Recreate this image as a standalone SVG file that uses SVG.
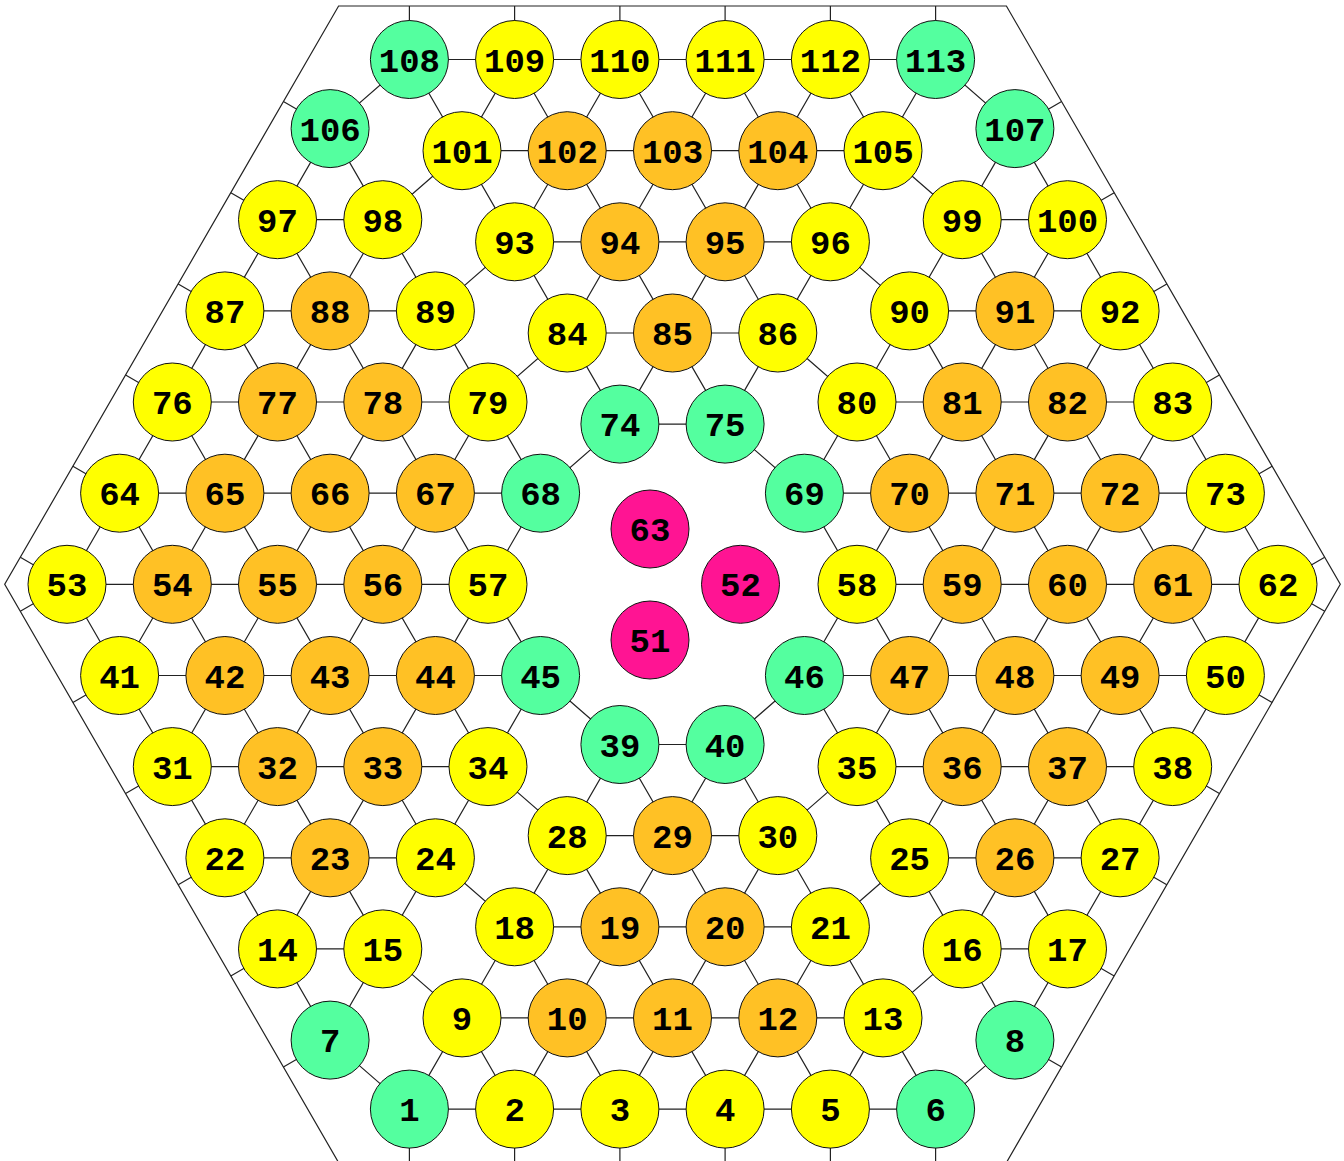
<svg xmlns="http://www.w3.org/2000/svg" width="1344" height="1161" viewBox="0 0 1344 1161">
<style>
.e path{fill:none;stroke:#222;stroke-width:1.2}
circle{r:39px;stroke:#111;stroke-width:1}
.y circle{fill:#ffff00}
.o circle{fill:#ffc125}
.g circle{fill:#54ff9f}
.m circle{fill:#ff1493}
text{font-family:"Liberation Mono","DejaVu Sans Mono",monospace;font-weight:bold;font-size:34px;text-anchor:middle;fill:#000}
</style>
<rect width="1344" height="1161" fill="#fff"/>
<polygon points="338.6,6 1006.4,6 1340.3,584.3 1006.4,1162.6 338.6,1162.6 4.7,584.3" fill="none" stroke="#222" stroke-width="1.2"/>
<g class="e" id="connectors">
<path d="M277.5 219.7H382.8M224.9 310.9H435.4M172.3 402H488M119.6 493.2H540.6M67 584.3H488M119.6 675.5H540.6M172.3 766.6H488M224.9 857.8H435.4M277.5 948.9H382.8"/>
<path d="M962.2 219.7H1067.5M909.6 310.9H1120.1M857 402H1172.7M804.4 493.2H1225.4M857 584.3H1278M804.4 675.5H1225.4M857 766.6H1172.7M909.6 857.8H1120.1M962.2 948.9H1067.5"/>
<path d="M409.4 59.5H935.6M462 150.7H883M514.6 241.8H830.4M567.2 333H777.8M619.9 424.1H725.1M409.4 1109.1H935.6M462 1017.9H883M514.6 926.8H830.4M567.2 835.6H777.8M619.9 744.5H725.1"/>
<path d="M330.1 128.6L540.6 493.2M277.5 219.7L540.6 675.5M224.9 310.9L488 766.6M172.3 402L435.4 857.8M119.6 493.2L382.8 948.9M67 584.3L330.1 1040.1M330.1 128.6L67 584.3M382.8 219.7L119.6 675.5M435.4 310.9L172.3 766.6M488 402L224.9 857.8M540.6 493.2L277.5 948.9M540.6 675.5L330.1 1040.1"/>
<path d="M1014.9 128.6L804.4 493.2M1067.5 219.7L804.4 675.5M1120.1 310.9L857 766.6M1172.7 402L909.6 857.8M1225.4 493.2L962.2 948.9M1278 584.3L1014.9 1040.1M1014.9 128.6L1278 584.3M962.2 219.7L1225.4 675.5M909.6 310.9L1172.7 766.6M857 402L1120.1 857.8M804.4 493.2L1067.5 948.9M804.4 675.5L1014.9 1040.1"/>
<path d="M409.4 59.5L619.9 424.1M514.6 59.5L725.1 424.1M619.9 59.5L777.8 333M725.1 59.5L830.4 241.8M830.4 59.5L883 150.7M935.6 59.5L725.1 424.1M830.4 59.5L619.9 424.1M725.1 59.5L567.2 333M619.9 59.5L514.6 241.8M514.6 59.5L462 150.7"/>
<path d="M409.4 1109.1L619.9 744.5M514.6 1109.1L725.1 744.5M619.9 1109.1L777.8 835.6M725.1 1109.1L830.4 926.8M830.4 1109.1L883 1017.9M935.6 1109.1L725.1 744.5M830.4 1109.1L619.9 744.5M725.1 1109.1L567.2 835.6M619.9 1109.1L514.6 926.8M514.6 1109.1L462 1017.9"/>
<path d="M330.1 128.6L409.4 59.5M382.8 219.7L462 150.7M435.4 310.9L514.6 241.8M488 402L567.2 333M540.6 493.2L619.9 424.1M935.6 59.5L1014.9 128.6M883 150.7L962.2 219.7M830.4 241.8L909.6 310.9M777.8 333L857 402M725.1 424.1L804.4 493.2"/>
<path d="M330.1 1040.1L409.4 1109.1M382.8 948.9L462 1017.9M435.4 857.8L514.6 926.8M488 766.6L567.2 835.6M540.6 675.5L619.9 744.5M1014.9 1040.1L935.6 1109.1M962.2 948.9L883 1017.9M909.6 857.8L830.4 926.8M857 766.6L777.8 835.6M804.4 675.5L725.1 744.5"/>
<path d="M409.4 59.5V6M514.6 59.5V6M619.9 59.5V6M725.1 59.5V6M830.4 59.5V6M935.6 59.5V6M409.4 1109.1V1163M514.6 1109.1V1163M619.9 1109.1V1163M725.1 1109.1V1163M830.4 1109.1V1163M935.6 1109.1V1163"/>
<path d="M330.1 128.6L283.4 101.6M277.5 219.7L230.8 192.7M224.9 310.9L178.2 283.9M172.3 402L125.6 375M119.6 493.2L72.9 466.2M67 584.3L20.3 557.3M67 584.3L20.3 611.3M119.6 675.5L72.9 702.5M172.3 766.6L125.6 793.6M224.9 857.8L178.2 884.8M277.5 948.9L230.8 975.9M330.1 1040.1L283.4 1067.1"/>
<path d="M1014.9 128.6L1061.6 101.6M1067.5 219.7L1114.2 192.7M1120.1 310.9L1166.8 283.9M1172.7 402L1219.4 375M1225.4 493.2L1272.1 466.2M1278 584.3L1324.7 557.3M1278 584.3L1324.7 611.3M1225.4 675.5L1272.1 702.5M1172.7 766.6L1219.4 793.6M1120.1 857.8L1166.8 884.8M1067.5 948.9L1114.2 975.9M1014.9 1040.1L1061.6 1067.1"/>
</g>
<g id="nodes">
<g id="n108" class="g"><circle cx="409.4" cy="59.5"/><text x="409.4" y="71.5">108</text></g>
<g id="n109" class="y"><circle cx="514.6" cy="59.5"/><text x="514.6" y="71.5">109</text></g>
<g id="n110" class="y"><circle cx="619.9" cy="59.5"/><text x="619.9" y="71.5">110</text></g>
<g id="n111" class="y"><circle cx="725.1" cy="59.5"/><text x="725.1" y="71.5">111</text></g>
<g id="n112" class="y"><circle cx="830.4" cy="59.5"/><text x="830.4" y="71.5">112</text></g>
<g id="n113" class="g"><circle cx="935.6" cy="59.5"/><text x="935.6" y="71.5">113</text></g>
<g id="n106" class="g"><circle cx="330.1" cy="128.6"/><text x="330.1" y="140.6">106</text></g>
<g id="n107" class="g"><circle cx="1014.9" cy="128.6"/><text x="1014.9" y="140.6">107</text></g>
<g id="n101" class="y"><circle cx="462" cy="150.7"/><text x="462" y="162.7">101</text></g>
<g id="n102" class="o"><circle cx="567.2" cy="150.7"/><text x="567.2" y="162.7">102</text></g>
<g id="n103" class="o"><circle cx="672.5" cy="150.7"/><text x="672.5" y="162.7">103</text></g>
<g id="n104" class="o"><circle cx="777.8" cy="150.7"/><text x="777.8" y="162.7">104</text></g>
<g id="n105" class="y"><circle cx="883" cy="150.7"/><text x="883" y="162.7">105</text></g>
<g id="n97" class="y"><circle cx="277.5" cy="219.7"/><text x="277.5" y="231.7">97</text></g>
<g id="n98" class="y"><circle cx="382.8" cy="219.7"/><text x="382.8" y="231.7">98</text></g>
<g id="n99" class="y"><circle cx="962.2" cy="219.7"/><text x="962.2" y="231.7">99</text></g>
<g id="n100" class="y"><circle cx="1067.5" cy="219.7"/><text x="1067.5" y="231.7">100</text></g>
<g id="n93" class="y"><circle cx="514.6" cy="241.8"/><text x="514.6" y="253.8">93</text></g>
<g id="n94" class="o"><circle cx="619.9" cy="241.8"/><text x="619.9" y="253.8">94</text></g>
<g id="n95" class="o"><circle cx="725.1" cy="241.8"/><text x="725.1" y="253.8">95</text></g>
<g id="n96" class="y"><circle cx="830.4" cy="241.8"/><text x="830.4" y="253.8">96</text></g>
<g id="n87" class="y"><circle cx="224.9" cy="310.9"/><text x="224.9" y="322.9">87</text></g>
<g id="n88" class="o"><circle cx="330.1" cy="310.9"/><text x="330.1" y="322.9">88</text></g>
<g id="n89" class="y"><circle cx="435.4" cy="310.9"/><text x="435.4" y="322.9">89</text></g>
<g id="n90" class="y"><circle cx="909.6" cy="310.9"/><text x="909.6" y="322.9">90</text></g>
<g id="n91" class="o"><circle cx="1014.9" cy="310.9"/><text x="1014.9" y="322.9">91</text></g>
<g id="n92" class="y"><circle cx="1120.1" cy="310.9"/><text x="1120.1" y="322.9">92</text></g>
<g id="n84" class="y"><circle cx="567.2" cy="333"/><text x="567.2" y="345">84</text></g>
<g id="n85" class="o"><circle cx="672.5" cy="333"/><text x="672.5" y="345">85</text></g>
<g id="n86" class="y"><circle cx="777.8" cy="333"/><text x="777.8" y="345">86</text></g>
<g id="n76" class="y"><circle cx="172.3" cy="402"/><text x="172.3" y="414">76</text></g>
<g id="n77" class="o"><circle cx="277.5" cy="402"/><text x="277.5" y="414">77</text></g>
<g id="n78" class="o"><circle cx="382.8" cy="402"/><text x="382.8" y="414">78</text></g>
<g id="n79" class="y"><circle cx="488" cy="402"/><text x="488" y="414">79</text></g>
<g id="n80" class="y"><circle cx="857" cy="402"/><text x="857" y="414">80</text></g>
<g id="n81" class="o"><circle cx="962.2" cy="402"/><text x="962.2" y="414">81</text></g>
<g id="n82" class="o"><circle cx="1067.5" cy="402"/><text x="1067.5" y="414">82</text></g>
<g id="n83" class="y"><circle cx="1172.7" cy="402"/><text x="1172.7" y="414">83</text></g>
<g id="n74" class="g"><circle cx="619.9" cy="424.1"/><text x="619.9" y="436.1">74</text></g>
<g id="n75" class="g"><circle cx="725.1" cy="424.1"/><text x="725.1" y="436.1">75</text></g>
<g id="n64" class="y"><circle cx="119.6" cy="493.2"/><text x="119.6" y="505.2">64</text></g>
<g id="n65" class="o"><circle cx="224.9" cy="493.2"/><text x="224.9" y="505.2">65</text></g>
<g id="n66" class="o"><circle cx="330.1" cy="493.2"/><text x="330.1" y="505.2">66</text></g>
<g id="n67" class="o"><circle cx="435.4" cy="493.2"/><text x="435.4" y="505.2">67</text></g>
<g id="n68" class="g"><circle cx="540.6" cy="493.2"/><text x="540.6" y="505.2">68</text></g>
<g id="n69" class="g"><circle cx="804.4" cy="493.2"/><text x="804.4" y="505.2">69</text></g>
<g id="n70" class="o"><circle cx="909.6" cy="493.2"/><text x="909.6" y="505.2">70</text></g>
<g id="n71" class="o"><circle cx="1014.9" cy="493.2"/><text x="1014.9" y="505.2">71</text></g>
<g id="n72" class="o"><circle cx="1120.1" cy="493.2"/><text x="1120.1" y="505.2">72</text></g>
<g id="n73" class="y"><circle cx="1225.4" cy="493.2"/><text x="1225.4" y="505.2">73</text></g>
<g id="n63" class="m"><circle cx="650" cy="529"/><text x="650" y="541">63</text></g>
<g id="n53" class="y"><circle cx="67" cy="584.3"/><text x="67" y="596.3">53</text></g>
<g id="n54" class="o"><circle cx="172.3" cy="584.3"/><text x="172.3" y="596.3">54</text></g>
<g id="n55" class="o"><circle cx="277.5" cy="584.3"/><text x="277.5" y="596.3">55</text></g>
<g id="n56" class="o"><circle cx="382.8" cy="584.3"/><text x="382.8" y="596.3">56</text></g>
<g id="n57" class="y"><circle cx="488" cy="584.3"/><text x="488" y="596.3">57</text></g>
<g id="n52" class="m"><circle cx="740.5" cy="584.3"/><text x="740.5" y="596.3">52</text></g>
<g id="n58" class="y"><circle cx="857" cy="584.3"/><text x="857" y="596.3">58</text></g>
<g id="n59" class="o"><circle cx="962.2" cy="584.3"/><text x="962.2" y="596.3">59</text></g>
<g id="n60" class="o"><circle cx="1067.5" cy="584.3"/><text x="1067.5" y="596.3">60</text></g>
<g id="n61" class="o"><circle cx="1172.7" cy="584.3"/><text x="1172.7" y="596.3">61</text></g>
<g id="n62" class="y"><circle cx="1278" cy="584.3"/><text x="1278" y="596.3">62</text></g>
<g id="n51" class="m"><circle cx="650" cy="640"/><text x="650" y="652">51</text></g>
<g id="n41" class="y"><circle cx="119.6" cy="675.5"/><text x="119.6" y="687.5">41</text></g>
<g id="n42" class="o"><circle cx="224.9" cy="675.5"/><text x="224.9" y="687.5">42</text></g>
<g id="n43" class="o"><circle cx="330.1" cy="675.5"/><text x="330.1" y="687.5">43</text></g>
<g id="n44" class="o"><circle cx="435.4" cy="675.5"/><text x="435.4" y="687.5">44</text></g>
<g id="n45" class="g"><circle cx="540.6" cy="675.5"/><text x="540.6" y="687.5">45</text></g>
<g id="n46" class="g"><circle cx="804.4" cy="675.5"/><text x="804.4" y="687.5">46</text></g>
<g id="n47" class="o"><circle cx="909.6" cy="675.5"/><text x="909.6" y="687.5">47</text></g>
<g id="n48" class="o"><circle cx="1014.9" cy="675.5"/><text x="1014.9" y="687.5">48</text></g>
<g id="n49" class="o"><circle cx="1120.1" cy="675.5"/><text x="1120.1" y="687.5">49</text></g>
<g id="n50" class="y"><circle cx="1225.4" cy="675.5"/><text x="1225.4" y="687.5">50</text></g>
<g id="n39" class="g"><circle cx="619.9" cy="744.5"/><text x="619.9" y="756.5">39</text></g>
<g id="n40" class="g"><circle cx="725.1" cy="744.5"/><text x="725.1" y="756.5">40</text></g>
<g id="n31" class="y"><circle cx="172.3" cy="766.6"/><text x="172.3" y="778.6">31</text></g>
<g id="n32" class="o"><circle cx="277.5" cy="766.6"/><text x="277.5" y="778.6">32</text></g>
<g id="n33" class="o"><circle cx="382.8" cy="766.6"/><text x="382.8" y="778.6">33</text></g>
<g id="n34" class="y"><circle cx="488" cy="766.6"/><text x="488" y="778.6">34</text></g>
<g id="n35" class="y"><circle cx="857" cy="766.6"/><text x="857" y="778.6">35</text></g>
<g id="n36" class="o"><circle cx="962.2" cy="766.6"/><text x="962.2" y="778.6">36</text></g>
<g id="n37" class="o"><circle cx="1067.5" cy="766.6"/><text x="1067.5" y="778.6">37</text></g>
<g id="n38" class="y"><circle cx="1172.7" cy="766.6"/><text x="1172.7" y="778.6">38</text></g>
<g id="n28" class="y"><circle cx="567.2" cy="835.6"/><text x="567.2" y="847.6">28</text></g>
<g id="n29" class="o"><circle cx="672.5" cy="835.6"/><text x="672.5" y="847.6">29</text></g>
<g id="n30" class="y"><circle cx="777.8" cy="835.6"/><text x="777.8" y="847.6">30</text></g>
<g id="n22" class="y"><circle cx="224.9" cy="857.8"/><text x="224.9" y="869.8">22</text></g>
<g id="n23" class="o"><circle cx="330.1" cy="857.8"/><text x="330.1" y="869.8">23</text></g>
<g id="n24" class="y"><circle cx="435.4" cy="857.8"/><text x="435.4" y="869.8">24</text></g>
<g id="n25" class="y"><circle cx="909.6" cy="857.8"/><text x="909.6" y="869.8">25</text></g>
<g id="n26" class="o"><circle cx="1014.9" cy="857.8"/><text x="1014.9" y="869.8">26</text></g>
<g id="n27" class="y"><circle cx="1120.1" cy="857.8"/><text x="1120.1" y="869.8">27</text></g>
<g id="n18" class="y"><circle cx="514.6" cy="926.8"/><text x="514.6" y="938.8">18</text></g>
<g id="n19" class="o"><circle cx="619.9" cy="926.8"/><text x="619.9" y="938.8">19</text></g>
<g id="n20" class="o"><circle cx="725.1" cy="926.8"/><text x="725.1" y="938.8">20</text></g>
<g id="n21" class="y"><circle cx="830.4" cy="926.8"/><text x="830.4" y="938.8">21</text></g>
<g id="n14" class="y"><circle cx="277.5" cy="948.9"/><text x="277.5" y="960.9">14</text></g>
<g id="n15" class="y"><circle cx="382.8" cy="948.9"/><text x="382.8" y="960.9">15</text></g>
<g id="n16" class="y"><circle cx="962.2" cy="948.9"/><text x="962.2" y="960.9">16</text></g>
<g id="n17" class="y"><circle cx="1067.5" cy="948.9"/><text x="1067.5" y="960.9">17</text></g>
<g id="n9" class="y"><circle cx="462" cy="1017.9"/><text x="462" y="1029.9">9</text></g>
<g id="n10" class="o"><circle cx="567.2" cy="1017.9"/><text x="567.2" y="1029.9">10</text></g>
<g id="n11" class="o"><circle cx="672.5" cy="1017.9"/><text x="672.5" y="1029.9">11</text></g>
<g id="n12" class="o"><circle cx="777.8" cy="1017.9"/><text x="777.8" y="1029.9">12</text></g>
<g id="n13" class="y"><circle cx="883" cy="1017.9"/><text x="883" y="1029.9">13</text></g>
<g id="n7" class="g"><circle cx="330.1" cy="1040.1"/><text x="330.1" y="1052.1">7</text></g>
<g id="n8" class="g"><circle cx="1014.9" cy="1040.1"/><text x="1014.9" y="1052.1">8</text></g>
<g id="n1" class="g"><circle cx="409.4" cy="1109.1"/><text x="409.4" y="1121.1">1</text></g>
<g id="n2" class="y"><circle cx="514.6" cy="1109.1"/><text x="514.6" y="1121.1">2</text></g>
<g id="n3" class="y"><circle cx="619.9" cy="1109.1"/><text x="619.9" y="1121.1">3</text></g>
<g id="n4" class="y"><circle cx="725.1" cy="1109.1"/><text x="725.1" y="1121.1">4</text></g>
<g id="n5" class="y"><circle cx="830.4" cy="1109.1"/><text x="830.4" y="1121.1">5</text></g>
<g id="n6" class="g"><circle cx="935.6" cy="1109.1"/><text x="935.6" y="1121.1">6</text></g>
</g>
</svg>
